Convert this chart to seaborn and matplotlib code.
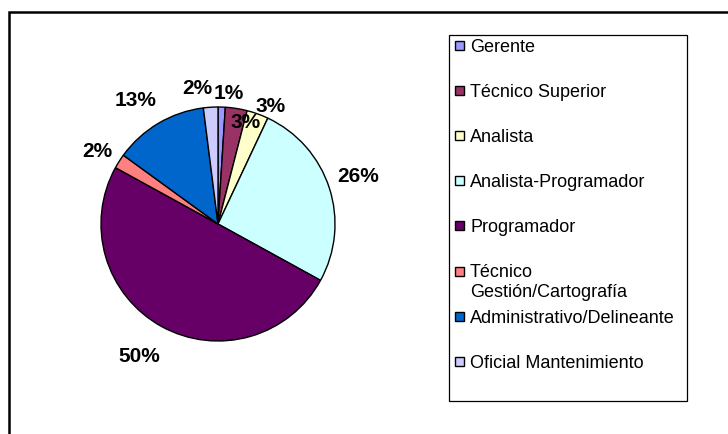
import matplotlib
matplotlib.use("Agg")
import numpy as np
import matplotlib.pyplot as plt
from matplotlib.patches import Rectangle
import seaborn as sns

# data
categories = [
    "Gerente",
    "Técnico Superior",
    "Analista",
    "Analista-Programador",
    "Programador",
    "Técnico\nGestión/Cartografía",
    "Administrativo/Delineante",
    "Oficial Mantenimiento",
]
shares = [1, 3, 3, 26, 50, 2, 13, 2]
colors = ["#9999FF", "#993366", "#FFFFCC", "#CCFFFF",
          "#660066", "#FF8080", "#0066CC", "#CCCCFF"]

# label placement (radius multiples and angle nudges, Excel-like)
label_dist = [1.13, 0.91, 1.11, 1.27, 1.31, 1.21, 1.28, 1.18]
label_nudge = [-3, -6, -4, 1, -2, 1, 3, 5]

sns.set_theme(style="white")
plt.rcParams["font.family"] = ["Liberation Sans", "DejaVu Sans"]

W, H = 728, 435
fig = plt.figure(figsize=(W / 100, H / 100), dpi=100)

# pie axes: center (218, 225) px, radius 117 px
cx, cy, r = 218, 225, 117
lim = 1.05
ax = fig.add_axes([(cx - r * lim) / W, (H - cy - r * lim) / H,
                   2 * r * lim / W, 2 * r * lim / H])
wedges, _ = ax.pie(shares, colors=colors, startangle=90, counterclock=False,
                   wedgeprops=dict(edgecolor="black", linewidth=1.0))
ax.set_xlim(-lim, lim)
ax.set_ylim(-lim, lim)
ax.set_aspect("equal")
ax.axis("off")

for w, v, d, n in zip(wedges, shares, label_dist, label_nudge):
    ang = np.deg2rad((w.theta1 + w.theta2) / 2 + n)
    ax.text(d * np.cos(ang), d * np.sin(ang), f"{v}%", ha="center",
            va="center", fontsize=15, fontweight="bold", color="black")

# outer chart border (only top/left visible)
fig.add_artist(Rectangle((8.5 / W, -0.1), 1.2, 1.1 - 13 / H, transform=fig.transFigure,
                         fill=False, edgecolor="black", linewidth=1.8))

# legend box
lx0, ly0, lx1, ly1 = 449, 36, 687, 402
fig.add_artist(Rectangle((lx0 / W, 1 - ly1 / H), (lx1 - lx0) / W, (ly1 - ly0) / H,
                         transform=fig.transFigure, fill=False,
                         edgecolor="black", linewidth=0.9))

# legend entries in equal slots, like Excel
slot0, pitch, box = 46, 45.2, 9
for i, (lab, col) in enumerate(zip(categories, colors)):
    yc = slot0 + pitch * i
    fig.add_artist(Rectangle((455 / W, 1 - (yc + box / 2) / H), box / W, box / H,
                             transform=fig.transFigure, facecolor=col,
                             edgecolor="black", linewidth=1.0))
    fig.text(470 / W, 1 - (yc - 7.5) / H, lab, ha="left", va="top",
             fontsize=13, color="black", linespacing=1.2)

fig.savefig("out.png", dpi=100, facecolor="white")
